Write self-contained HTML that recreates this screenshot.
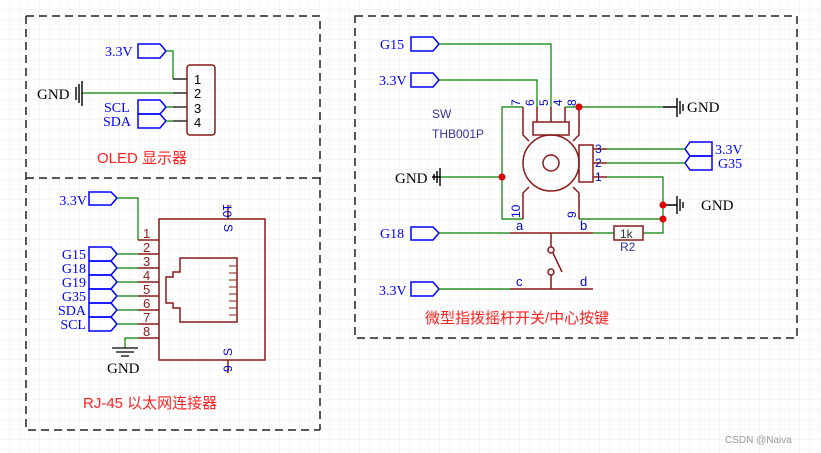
<!DOCTYPE html>
<html><head><meta charset="utf-8"><style>
html,body{margin:0;padding:0;background:#fff}
svg{display:block}
.n{font-family:"Liberation Serif",serif;font-size:14px;fill:#0000ff}
.k{font-family:"Liberation Serif",serif;font-size:15px;fill:#000}
.p{font-family:"Liberation Sans",sans-serif;font-size:12px;fill:#0000cc}
.pr{font-family:"Liberation Sans",sans-serif;font-size:13px;fill:#8b1a1a}
.t{font-family:"Liberation Sans","Noto Sans CJK SC",sans-serif;font-size:15px;fill:#ff2020}
</style></head><body>
<svg width="821" height="453" viewBox="0 0 821 453" xmlns="http://www.w3.org/2000/svg">
<defs>
<pattern id="g" width="10" height="10" patternUnits="userSpaceOnUse"><path d="M10 0V10H0" fill="none" stroke="#ececec" stroke-width="1"/></pattern>
</defs>
<rect width="821" height="453" fill="url(#g)"/>
<g fill="none" stroke="#222" stroke-width="1.5" stroke-dasharray="8,5">
<path d="M26 16H320V430M26 16V430H320M26 178H320"/>
<rect x="355" y="16" width="442" height="322"/>
</g>

<!-- OLED -->
<g fill="none" stroke="#0000ff" stroke-width="1.5">
<path d="M138 44H160L166 51L160 58H138Z"/>
<path d="M138 100H160L166 107L160 114H138Z"/>
<path d="M138 114H160L166 121L160 128H138Z"/>
</g>
<text class="n" x="105" y="56">3.3V</text>
<text class="n" x="104" y="112">SCL</text>
<text class="n" x="103" y="126">SDA</text>
<g fill="none" stroke="#008000" stroke-width="1.2">
<path d="M166 51H173V79"/><path d="M82 93H173"/><path d="M166 107H173M166 121H173"/>
</g>
<g stroke="#000" stroke-width="1.2"><path d="M173 79H187M173 93H187M173 107H187M173 121H187"/>
<path d="M76 87V100M79 84V103M82 81V106" stroke-width="1.4"/></g>
<text class="k" x="37" y="99">GND</text>
<rect x="187" y="65" width="28" height="70" rx="3" fill="none" stroke="#8b1a1a" stroke-width="1.5"/>
<g style="font-family:Liberation Sans;font-size:13px"><text x="194" y="84">1</text><text x="194" y="98">2</text><text x="194" y="113">3</text><text x="194" y="127">4</text></g>
<text class="t" x="97" y="163">OLED 显示器</text>

<!-- RJ45 -->
<g fill="none" stroke="#0000ff" stroke-width="1.5">
<path d="M89 192H111L117 198L111 205H89Z"/>
<path d="M89 247H111L117 254L111 261H89Z"/>
<path d="M89 261H111L117 268L111 275H89Z"/>
<path d="M89 275H111L117 282L111 289H89Z"/>
<path d="M89 289H111L117 296L111 303H89Z"/>
<path d="M89 303H111L117 310L111 317H89Z"/>
<path d="M89 317H111L117 324L111 331H89Z"/>
</g>
<g class="n" text-anchor="end"><text x="87" y="205">3.3V</text><text x="86" y="259">G15</text><text x="86" y="273">G18</text><text x="86" y="287">G19</text><text x="86" y="301">G35</text><text x="86" y="315">SDA</text><text x="86" y="329">SCL</text></g>
<g fill="none" stroke="#008000" stroke-width="1.2">
<path d="M117 198H138V240"/><path d="M117 254H138M117 268H138M117 282H138M117 296H138M117 310H138M117 324H138"/><path d="M138 338H125V348"/>
</g>
<g fill="none" stroke="#8b1a1a" stroke-width="1.5">
<path d="M138 240H159M138 254H159M138 268H159M138 282H159M138 296H159M138 310H159M138 324H159M138 338H159"/>
<rect x="159" y="219" width="106" height="141"/>
<path d="M228 205V219M228 360V373"/>
<path d="M180 258H237V322H180V308H173V303H166V277H173V272H180Z"/>
<path d="M229 266H237M229 273H237M229 280H237M229 287H237M229 294H237M229 301H237M229 308H237M229 315H237" stroke-width="1"/>
</g>
<g stroke="#000" stroke-width="1.2"><path d="M112 348H138M116 352H134M121 356H129"/></g>
<text class="k" x="107" y="373">GND</text>
<g class="pr"><text x="143" y="238">1</text><text x="143" y="252">2</text><text x="143" y="266">3</text><text x="143" y="280">4</text><text x="143" y="294">5</text><text x="143" y="308">6</text><text x="143" y="322">7</text><text x="143" y="336">8</text></g>
<text class="p" transform="translate(223,204) rotate(90)">10</text>
<text class="p" transform="translate(224,224) rotate(90)">S</text>
<text class="p" transform="translate(232,356) rotate(-90)">S</text>
<text class="p" transform="translate(232,372) rotate(-90)">9</text>
<text class="t" x="83" y="408">RJ-45 以太网连接器</text>

<!-- Switch -->
<g fill="none" stroke="#0000ff" stroke-width="1.5">
<path d="M411 37H433L439 44L433 51H411Z"/>
<path d="M411 73H433L439 80L433 87H411Z"/>
<path d="M411 227H433L439 233L433 240H411Z"/>
<path d="M411 282H433L439 289L433 296H411Z"/>
<path d="M712 142H690L685 149L690 156H712Z"/>
<path d="M712 156H690L685 163L690 170H712Z"/>
</g>
<g class="n"><text x="380" y="49">G15</text><text x="379" y="85">3.3V</text><text x="380" y="238">G18</text><text x="379" y="295">3.3V</text><text x="715" y="154">3.3V</text><text x="718" y="168">G35</text></g>
<g fill="none" stroke="#008000" stroke-width="1.2">
<path d="M439 44H551V108"/><path d="M439 80H537V108"/>
<path d="M565 107H663"/><path d="M523 107H502V219H523"/>
<path d="M440 177H502"/>
<path d="M607 149H685M607 163H685"/>
<path d="M607 177H663V233H643"/>
<path d="M579 219H663"/>
<path d="M439 233H510M593 233H614"/><path d="M439 289H510"/>
</g>
<g fill="none" stroke="#8b1a1a" stroke-width="1.5">
<path d="M523 107V135L529 141M579 107V135L573 141M537 107V122M551 107V122M565 107V122"/>
<rect x="533" y="122" width="36" height="13"/>
<circle cx="551" cy="163" r="28"/><circle cx="551" cy="163" r="8"/>
<rect x="579" y="145" width="14" height="37"/>
<path d="M593 149H607M593 163H607M593 177H607"/>
<path d="M523 219V193L529 187M579 219V193L573 187"/>
<path d="M510 233H593"/><path d="M510 289H593"/>
<path d="M551 233V247M551 275V289M553 253L562 272"/>
<circle cx="551" cy="250" r="3"/><circle cx="551" cy="272" r="3"/>
<rect x="614" y="226" width="29" height="14"/>
</g>
<g stroke="#000" stroke-width="1.4"><path d="M663 107H677M677 98V117M680 101V114M683 104V111"/><path d="M440 177H432M440 168V186M437 171V183M434 174V180"/><path d="M663 205H677M677 196V214M680 199V211M683 202V208"/></g>
<g class="k"><text x="687" y="112">GND</text><text x="395" y="183">GND</text><text x="701" y="210">GND</text></g>
<g fill="#dd0000"><circle cx="579" cy="107" r="3.5"/><circle cx="502" cy="177" r="3.5"/><circle cx="663" cy="205" r="3.5"/><circle cx="663" cy="219" r="3.5"/></g>
<g class="p"><text x="595" y="153">3</text><text x="595" y="167">2</text><text x="595" y="181">1</text></g>
<text class="p" transform="translate(520,106) rotate(-90)">7</text>
<text class="p" transform="translate(534,106) rotate(-90)">6</text>
<text class="p" transform="translate(548,106) rotate(-90)">5</text>
<text class="p" transform="translate(562,106) rotate(-90)">4</text>
<text class="p" transform="translate(576,106) rotate(-90)">8</text>
<text class="p" transform="translate(520,218) rotate(-90)">10</text>
<text class="p" transform="translate(576,218) rotate(-90)">9</text>
<g class="p" style="font-size:13px"><text x="516" y="230">a</text><text x="580" y="230">b</text><text x="516" y="286">c</text><text x="580" y="286">d</text></g>
<text x="620" y="238" style="font-family:Liberation Sans;font-size:12px;fill:#333">1k</text>
<text x="620" y="251" style="font-family:Liberation Sans;font-size:12px;fill:#333399">R2</text>
<text x="432" y="118" style="font-family:Liberation Sans;font-size:12px;fill:#333399">SW</text>
<text x="432" y="138" style="font-family:Liberation Sans;font-size:12px;fill:#333399">THB001P</text>
<text class="t" x="425" y="323">微型指拨摇杆开关/中心按键</text>
<text x="725" y="443" style="font-family:Liberation Sans,sans-serif;font-size:10px;fill:#999">CSDN @Naiva</text>
</svg>
</body></html>
